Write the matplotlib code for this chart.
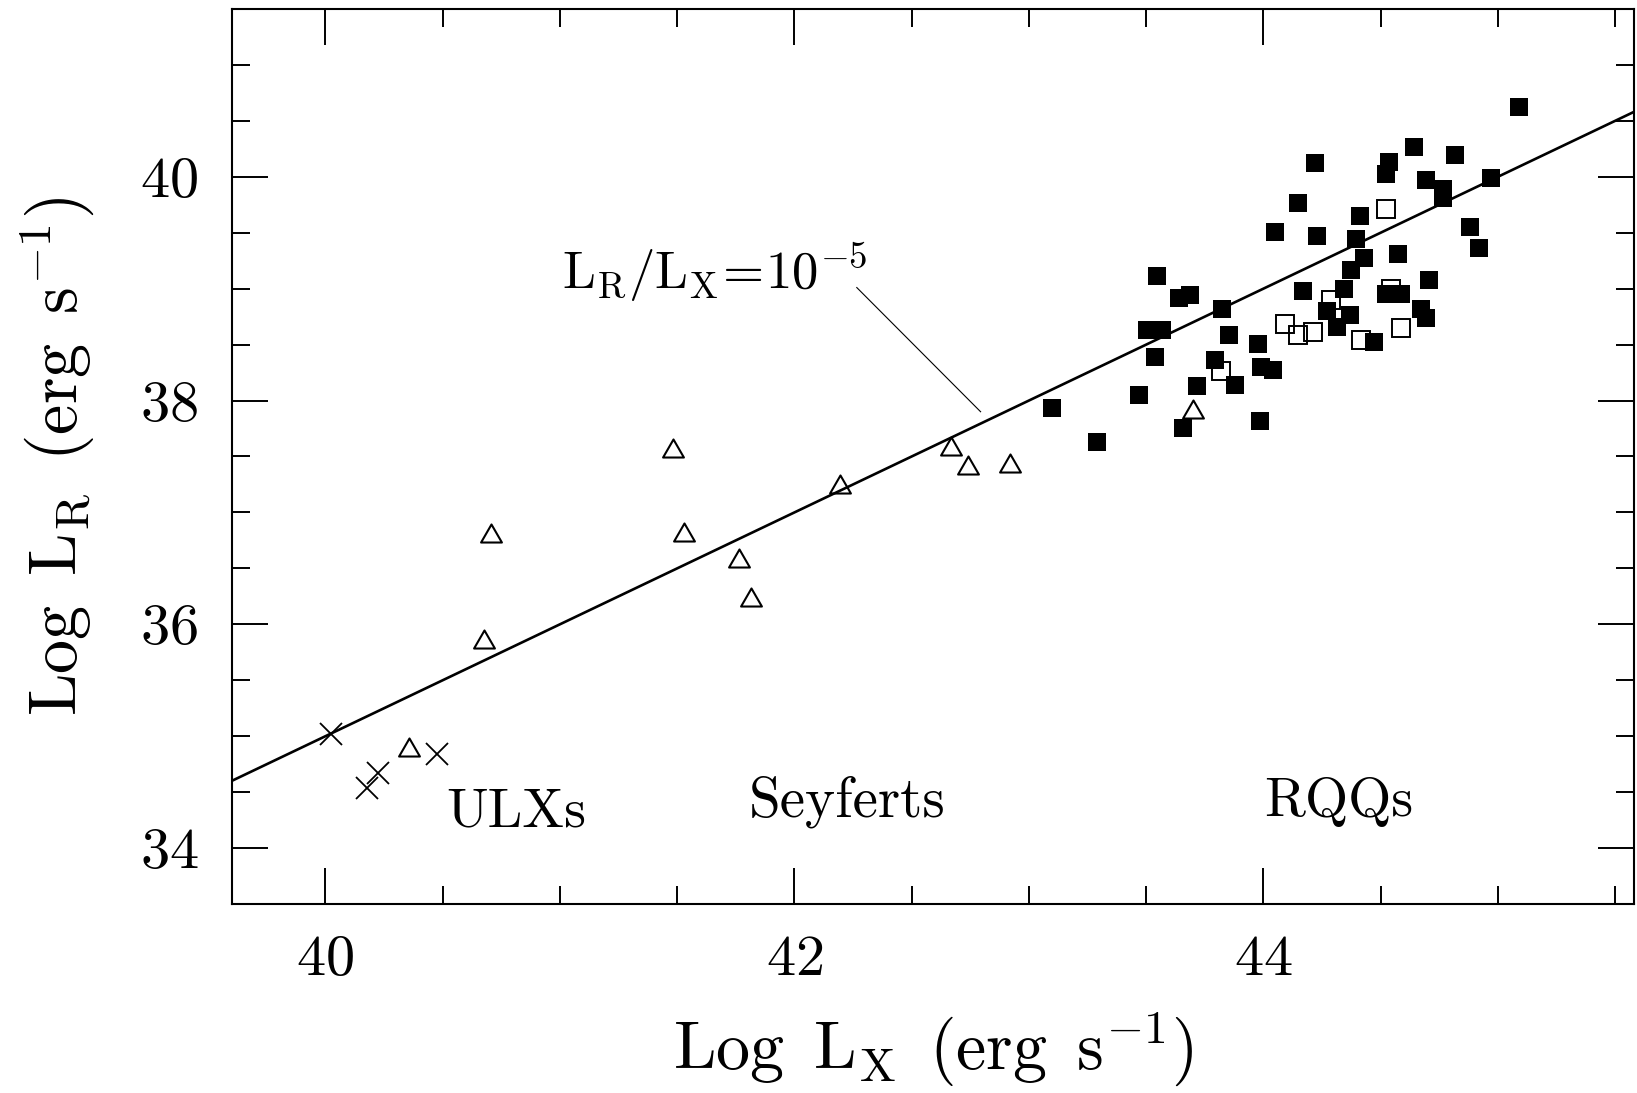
import numpy as np
import matplotlib
matplotlib.use('Agg')
import matplotlib.pyplot as plt
from matplotlib.ticker import MultipleLocator
from matplotlib.path import Path

plt.rcParams['font.family'] = 'serif'
plt.rcParams['font.serif'] = ['cmr10']
plt.rcParams['mathtext.fontset'] = 'cm'
plt.rcParams['axes.formatter.use_mathtext'] = True

# radio-quiet quasars (filled squares)
rqq_x = [45.088, 44.220, 44.537, 44.523, 44.643, 44.815, 44.694, 44.768, 44.768, 44.972,
         44.148, 44.412, 44.048, 44.229, 44.394, 44.879, 44.920, 44.431, 44.573, 44.374,
         44.708, 43.546, 43.640, 43.685, 44.344, 44.169, 44.522, 44.586, 43.822, 44.270,
         44.369, 44.671, 44.695, 43.505, 43.569, 44.315, 44.473, 43.536, 43.853, 43.978,
         43.792, 43.990, 44.042, 43.877, 43.718, 43.471, 43.098, 43.656, 43.985, 43.292]
rqq_y = [40.620, 40.127, 40.136, 40.022, 40.267, 40.199, 39.972, 39.888, 39.814, 39.987,
         39.763, 39.650, 39.506, 39.470, 39.447, 39.551, 39.360, 39.277, 39.306, 39.166,
         39.077, 39.112, 38.918, 38.942, 38.999, 38.975, 38.948, 38.948, 38.814, 38.799,
         38.769, 38.814, 38.739, 38.629, 38.629, 38.659, 38.524, 38.387, 38.584, 38.507,
         38.366, 38.301, 38.271, 38.137, 38.127, 38.053, 37.934, 37.755, 37.814, 37.629]

# open squares
rqq2_x = [44.524, 44.287, 44.543, 44.092, 44.149, 44.213, 44.415, 44.588, 43.821]
rqq2_y = [39.709, 38.895, 38.999, 38.680, 38.590, 38.611, 38.539, 38.650, 38.262]

# Seyferts (open triangles)
sey_x = [40.356, 40.676, 40.704, 41.483, 41.531, 41.762, 41.813, 42.194, 42.668, 42.739, 42.919, 43.699]
sey_y = [34.905, 35.867, 36.812, 37.575, 36.825, 36.594, 36.245, 37.258, 37.594, 37.428, 37.445, 37.925]

# ULXs (crosses)
ulx_x = [40.023, 40.176, 40.225, 40.477]
ulx_y = [35.022, 34.537, 34.672, 34.845]

ratio_log = -5.0
xlim = (39.6, 45.58)
ylim = (33.5, 41.5)

# leader from the ratio label to the line
lead_x = [42.266, 42.794]
lead_y = [39.01, 37.90]

fig = plt.figure(figsize=(16.37, 10.93), dpi=100)
ax = fig.add_axes([0.1415, 0.1729, 0.8566, 0.8189])

xs = np.array(xlim)
ax.plot(xs, xs + ratio_log, color='black', lw=1.9, zorder=2)
ax.plot(lead_x, lead_y, color='black', lw=0.8)

ax.plot(rqq_x, rqq_y, ls='none', marker='s', ms=12.5, mfc='black', mec='black', mew=0, zorder=3)
ax.plot(rqq2_x, rqq2_y, ls='none', marker='s', ms=12.4, mfc='none', mec='black', mew=1.4, zorder=4)
tri = Path([(-1, -0.866), (1, -0.866), (0, 0.866), (-1, -0.866)],
           [Path.MOVETO, Path.LINETO, Path.LINETO, Path.CLOSEPOLY])
ax.plot(sey_x, sey_y, ls='none', marker=tri, ms=15, mfc='none', mec='black', mew=1.5, zorder=4)
ax.plot(ulx_x, ulx_y, ls='none', marker='x', ms=16, mec='black', mew=1.3, zorder=4)

ax.text(40.517, 34.194, 'ULXs', fontsize=40, va='baseline')
ax.text(41.805, 34.284, 'Seyferts', fontsize=41, va='baseline')
ax.text(44.003, 34.29, 'RQQs', fontsize=40, va='baseline')
ax.text(41.008, 38.993, r'$\mathrm{L_R/L_X\!=\!10^{-5}}$', fontsize=38, va='baseline')

ax.set_xlim(*xlim)
ax.set_ylim(*ylim)
ax.xaxis.set_major_locator(MultipleLocator(2))
ax.xaxis.set_minor_locator(MultipleLocator(0.5))
ax.yaxis.set_major_locator(MultipleLocator(2))
ax.yaxis.set_minor_locator(MultipleLocator(0.5))
ax.tick_params(which='both', direction='in', top=True, right=True, width=1.4, colors='black')
ax.tick_params(which='major', length=26, labelsize=42)
ax.tick_params(which='minor', length=13)
ax.tick_params(axis='x', which='major', pad=22)
ax.tick_params(axis='y', which='major', pad=24)
for s in ax.spines.values():
    s.set_linewidth(1.5)

ax.set_xlabel(r'$\mathrm{Log\enspace L_X\enspace (erg\enspace s^{-1})}$', fontsize=49)
ax.set_ylabel(r'$\mathrm{Log\enspace L_R\enspace (erg\enspace s^{-1})}$', fontsize=49)
ax.xaxis.label.set_va('baseline')
ax.xaxis.set_label_coords(0.5, -0.1855)
ax.yaxis.label.set_va('baseline')
ax.yaxis.set_label_coords(-0.1094, 0.5)

fig.savefig('out.png', dpi=100)
